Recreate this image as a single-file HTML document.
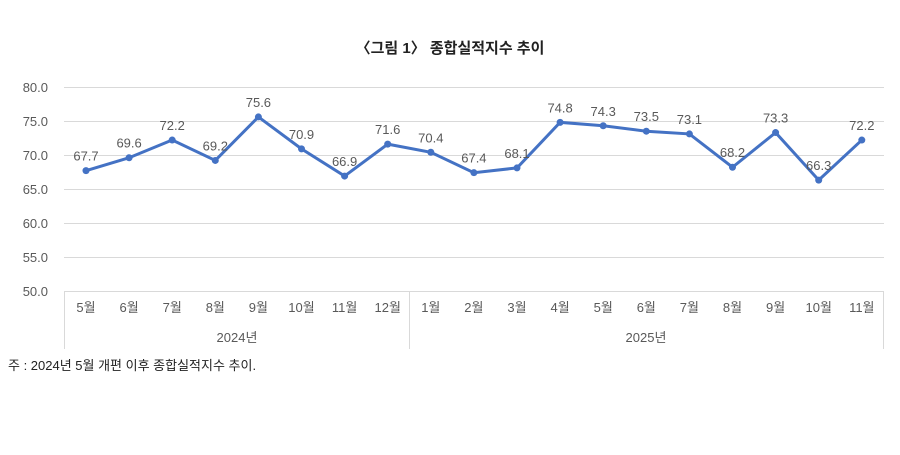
<!DOCTYPE html>
<html><head><meta charset="utf-8"><style>
body{margin:0;background:#fff;}
svg text{font-family:"Liberation Sans","Noto Sans CJK KR",sans-serif;}
</style></head><body>
<svg width="900" height="450" xmlns="http://www.w3.org/2000/svg">
<rect width="900" height="450" fill="#fff"/>
<text x="450" y="53" text-anchor="middle" font-size="15" font-weight="bold" fill="#222">〈그림 1〉 종합실적지수 추이</text>
<g stroke="#d9d9d9" stroke-width="1">
<line x1="64" y1="87.5" x2="884" y2="87.5"/>
<line x1="64" y1="121.5" x2="884" y2="121.5"/>
<line x1="64" y1="155.5" x2="884" y2="155.5"/>
<line x1="64" y1="189.5" x2="884" y2="189.5"/>
<line x1="64" y1="223.5" x2="884" y2="223.5"/>
<line x1="64" y1="257.5" x2="884" y2="257.5"/>
<line x1="64" y1="291.5" x2="884" y2="291.5"/>
<line x1="64.5" y1="291" x2="64.5" y2="349"/>
<line x1="409.5" y1="291" x2="409.5" y2="349"/>
<line x1="883.5" y1="291" x2="883.5" y2="349"/>
</g>
<g font-size="13" fill="#595959" text-anchor="end">
<text x="48" y="92">80.0</text><text x="48" y="126">75.0</text><text x="48" y="160">70.0</text>
<text x="48" y="194">65.0</text><text x="48" y="228">60.0</text><text x="48" y="262">55.0</text><text x="48" y="296">50.0</text>
</g>
<g font-size="13" fill="#595959" text-anchor="middle" id="m"></g>
<g font-size="13" fill="#595959" text-anchor="middle">
<text x="237" y="342">2024년</text><text x="646" y="342">2025년</text>
</g>
<text x="8" y="370" font-size="13" fill="#222">주 : 2024년 5월 개편 이후 종합실적지수 추이.</text>
<g id="s"></g>
<script>
var v=[67.7,69.6,72.2,69.2,75.6,70.9,66.9,71.6,70.4,67.4,68.1,74.8,74.3,73.5,73.1,68.2,73.3,66.3,72.2];
var mo=["5월","6월","7월","8월","9월","10월","11월","12월","1월","2월","3월","4월","5월","6월","7월","8월","9월","10월","11월"];
var ns="http://www.w3.org/2000/svg",m=document.getElementById("m"),s=document.getElementById("s");
var pts=[];
for(var i=0;i<19;i++){var x=86+i*43.1,y=291-(v[i]-50)*6.8;pts.push(x+","+y);
var t=document.createElementNS(ns,"text");t.setAttribute("x",x);t.setAttribute("y",312);t.textContent=mo[i];m.appendChild(t);}
var pl=document.createElementNS(ns,"polyline");pl.setAttribute("points",pts.join(" "));pl.setAttribute("fill","none");pl.setAttribute("stroke","#4472c4");pl.setAttribute("stroke-width","3");s.appendChild(pl);
for(var i=0;i<19;i++){var x=86+i*43.1,y=291-(v[i]-50)*6.8;
var c=document.createElementNS(ns,"circle");c.setAttribute("cx",x);c.setAttribute("cy",y);c.setAttribute("r",3.5);c.setAttribute("fill","#4472c4");s.appendChild(c);
var t=document.createElementNS(ns,"text");t.setAttribute("x",x);t.setAttribute("y",y-10);t.setAttribute("text-anchor","middle");t.setAttribute("font-size","13");t.setAttribute("fill","#595959");t.textContent=v[i].toFixed(1);s.appendChild(t);}
</script>
</svg>
</body></html>
